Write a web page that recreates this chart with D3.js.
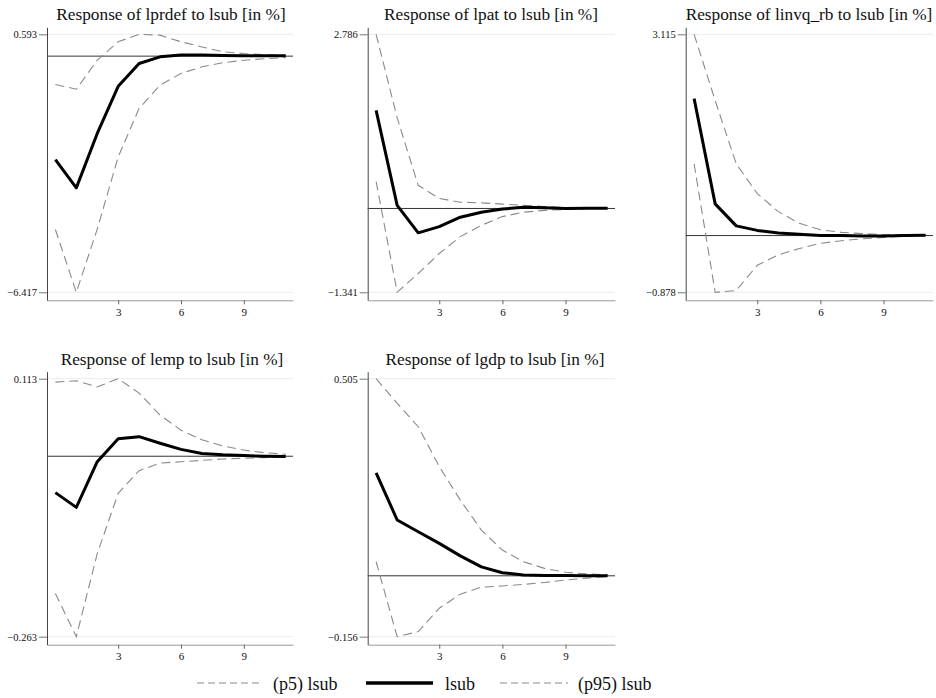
<!DOCTYPE html>
<html>
<head>
<meta charset="utf-8">
<script src="https://cdn.jsdelivr.net/npm/d3@7/dist/d3.min.js"></script>
<style>
  body { margin: 0; background: #fff; }
  svg { display: block; }
  svg text { font-family: "Liberation Serif", Tinos, "Times New Roman", Times, "DejaVu Serif", serif; }
</style>
</head>
<body>
<div id="container"></div>
<script>
let w = 936;
let h = 698;

// forecast steps (x) and x tick labels
let steps = [0, 1, 2, 3, 4, 5, 6, 7, 8, 9, 10, 11];
let xTicks = [3, 6, 9];

// panel titles and y tick labels (min, max)
let titles = [
  "Response of lprdef to lsub [in %]",
  "Response of lpat to lsub [in %]",
  "Response of linvq_rb to lsub [in %]",
  "Response of lemp to lsub [in %]",
  "Response of lgdp to lsub [in %]"
];
let yTicksLprdef = [-6.417, 0.593];
let yTicksLpat = [-1.341, 2.786];
let yTicksLinvq = [-0.878, 3.115];
let yTicksLemp = [-0.263, 0.113];
let yTicksLgdp = [-0.156, 0.505];

// impulse responses (lsub) and 5% / 95% bands
let irfLprdef = [-2.81, -3.58, -2.10, -0.82, -0.20, -0.02, 0.03, 0.03, 0.02, 0.01, 0.01, 0.01];
let p5Lprdef  = [-4.71, -6.417, -4.70, -2.74, -1.42, -0.79, -0.47, -0.29, -0.18, -0.11, -0.07, -0.04];
let p95Lprdef = [-0.77, -0.90, -0.11, 0.39, 0.593, 0.57, 0.39, 0.25, 0.12, 0.07, 0.04, 0.02];

let irfLpat = [1.57, 0.05, -0.39, -0.29, -0.14, -0.06, -0.01, 0.02, 0.01, 0.0, 0.005, 0.005];
let p5Lpat  = [0.43, -1.341, -1.04, -0.72, -0.45, -0.27, -0.13, -0.06, -0.03, -0.015, -0.005, 0.0];
let p95Lpat = [2.786, 1.45, 0.37, 0.16, 0.10, 0.09, 0.07, 0.05, 0.03, 0.015, 0.01, 0.005];

let irfLinvq = [2.12, 0.49, 0.15, 0.08, 0.04, 0.02, 0.0, 0.0, -0.005, -0.005, 0.0, 0.005];
let p5Linvq  = [1.11, -0.878, -0.85, -0.46, -0.30, -0.20, -0.12, -0.08, -0.05, -0.03, -0.01, 0.0];
let p95Linvq = [3.115, 2.09, 1.11, 0.65, 0.37, 0.19, 0.09, 0.05, 0.03, 0.015, 0.01, 0.005];

let irfLemp = [-0.053, -0.0745, -0.008, 0.0255, 0.0285, 0.019, 0.010, 0.004, 0.002, 0.001, 0.0, -0.0005];
let p5Lemp  = [-0.200, -0.263, -0.142, -0.054, -0.021, -0.010, -0.008, -0.006, -0.004, -0.003, -0.002, -0.001];
let p95Lemp = [0.108, 0.110, 0.101, 0.113, 0.092, 0.060, 0.038, 0.024, 0.015, 0.009, 0.005, 0.003];

let irfLgdp = [0.264, 0.143, 0.113, 0.083, 0.051, 0.023, 0.008, 0.002, 0.0005, 0.0005, 0.0, 0.0];
let p5Lgdp  = [0.036, -0.156, -0.143, -0.083, -0.047, -0.029, -0.026, -0.022, -0.017, -0.011, -0.006, -0.002];
let p95Lgdp = [0.505, 0.442, 0.382, 0.280, 0.194, 0.117, 0.066, 0.036, 0.019, 0.009, 0.005, 0.002];

let legendLabels = ["(p5) lsub", "lsub", "(p95) lsub"];

let panels = [
  { title: titles[0], ticks: yTicksLprdef, irf: irfLprdef, p5: p5Lprdef, p95: p95Lprdef },
  { title: titles[1], ticks: yTicksLpat, irf: irfLpat, p5: p5Lpat, p95: p95Lpat },
  { title: titles[2], ticks: yTicksLinvq, irf: irfLinvq, p5: p5Linvq, p95: p95Linvq },
  { title: titles[3], ticks: yTicksLemp, irf: irfLemp, p5: p5Lemp, p95: p95Lemp },
  { title: titles[4], ticks: yTicksLgdp, irf: irfLgdp, p5: p5Lgdp, p95: p95Lgdp }
];

// layout: axis x, right edge, top tick y, bottom tick y, title centre
let layout = [
  { left: 47, right: 293, top: 34.3, bottom: 292.3, tc: 171 },
  { left: 367.7, right: 615, top: 34.3, bottom: 292.3, tc: 491 },
  { left: 685.7, right: 933, top: 34.3, bottom: 292.3, tc: 809 },
  { left: 47, right: 293, top: 378.7, bottom: 636.7, tc: 172 },
  { left: 367.7, right: 615, top: 378.7, bottom: 636.7, tc: 495 }
];

let viz = d3.select("#container")
  .append("svg")
    .attr("width", w)
    .attr("height", h)
    .style("background-color", "white");

panels.forEach(function(p, i){
  let L = layout[i];
  let padTop = 7, padBot = 8;
  let base = d3.scaleLinear().domain(p.ticks).range([L.bottom, L.top]);
  let yScale = d3.scaleLinear()
    .domain([base.invert(L.bottom + padBot), base.invert(L.top - padTop)])
    .range([L.bottom + padBot, L.top - padTop]);
  let xScale = d3.scaleLinear().domain([-0.4, 11.35]).range([L.left, L.right]);
  let axisBottomY = L.bottom + padBot;

  let g = viz.append("g").attr("class", "panel");

  // faint grid lines at tick values
  g.selectAll(".grid").data(p.ticks).enter()
    .append("line")
      .attr("class", "grid")
      .attr("x1", L.left)
      .attr("x2", L.right)
      .attr("y1", d => yScale(d))
      .attr("y2", d => yScale(d))
      .attr("stroke", "#ececec")
      .attr("stroke-width", 1);

  // zero line
  g.append("line")
    .attr("x1", L.left)
    .attr("x2", L.right)
    .attr("y1", yScale(0))
    .attr("y2", yScale(0))
    .attr("stroke", "#333")
    .attr("stroke-width", 1);

  let yAxis = d3.axisLeft(yScale).tickValues(p.ticks).tickSize(8).tickSizeOuter(0)
    .tickPadding(2).tickFormat(d3.format(".3f"));
  let yAxisGroup = g.append("g").attr("transform", "translate(" + L.left + ",0)").call(yAxis);
  yAxisGroup.attr("font-family", null);
  yAxisGroup.select(".domain").attr("stroke", "#444");
  yAxisGroup.selectAll(".tick line").attr("stroke", "#777");
  yAxisGroup.selectAll("text")
    .style("font-size", "10.5px")
    .attr("fill", "#111");

  let xAxis = d3.axisBottom(xScale).tickValues(xTicks).tickSize(4).tickSizeOuter(0).tickPadding(4);
  let xAxisGroup = g.append("g").attr("transform", "translate(0," + axisBottomY + ")").call(xAxis);
  xAxisGroup.attr("font-family", null);
  xAxisGroup.select(".domain").attr("stroke", "#999");
  xAxisGroup.selectAll(".tick line").attr("stroke", "#666");
  xAxisGroup.selectAll("text")
    .style("font-size", "11px")
    .attr("fill", "#111");

  let line = d3.line()
    .x((d, j) => xScale(steps[j]))
    .y(d => yScale(d));

  [p.p5, p.p95].forEach(function(s){
    g.append("path")
      .datum(s)
      .attr("d", line)
      .attr("fill", "none")
      .attr("stroke", "#8a8a8a")
      .attr("stroke-width", 1.1)
      .attr("stroke-dasharray", "9,5");
  });
  g.append("path")
    .datum(p.irf)
    .attr("d", line)
    .attr("fill", "none")
    .attr("stroke", "black")
    .attr("stroke-width", 3)
    .attr("stroke-linejoin", "round");

  let title = g.append("text")
    .text(p.title)
    .attr("x", L.tc)
    .attr("y", L.top - 14)
    .attr("text-anchor", "middle")
    .attr("fill", "#111")
    .style("font-size", "17.3px");
  // keep the title inside the picture
  let bb = title.node().getBBox();
  if (bb.x + bb.width > w - 3) {
    title.attr("x", L.tc - (bb.x + bb.width - (w - 3)));
  }
});

// legend
let legend = viz.append("g").attr("class", "legend").attr("transform", "translate(0,683)");
let legendItems = [
  { x1: 197, x2: 263, tx: 273, dash: true },
  { x1: 366, x2: 433, tx: 445, dash: false },
  { x1: 500, x2: 568, tx: 578, dash: true }
];
legendItems.forEach(function(it, i){
  legend.append("line")
    .attr("x1", it.x1).attr("x2", it.x2)
    .attr("y1", 0).attr("y2", 0)
    .attr("stroke", it.dash ? "#8a8a8a" : "black")
    .attr("stroke-width", it.dash ? 1.1 : 3.5)
    .attr("stroke-dasharray", it.dash ? "7,4" : null);
  legend.append("text")
    .text(legendLabels[i])
    .attr("x", it.tx)
    .attr("y", 7)
    .attr("fill", "#111")
    .style("font-size", "18px");
});
</script>
</body>
</html>
